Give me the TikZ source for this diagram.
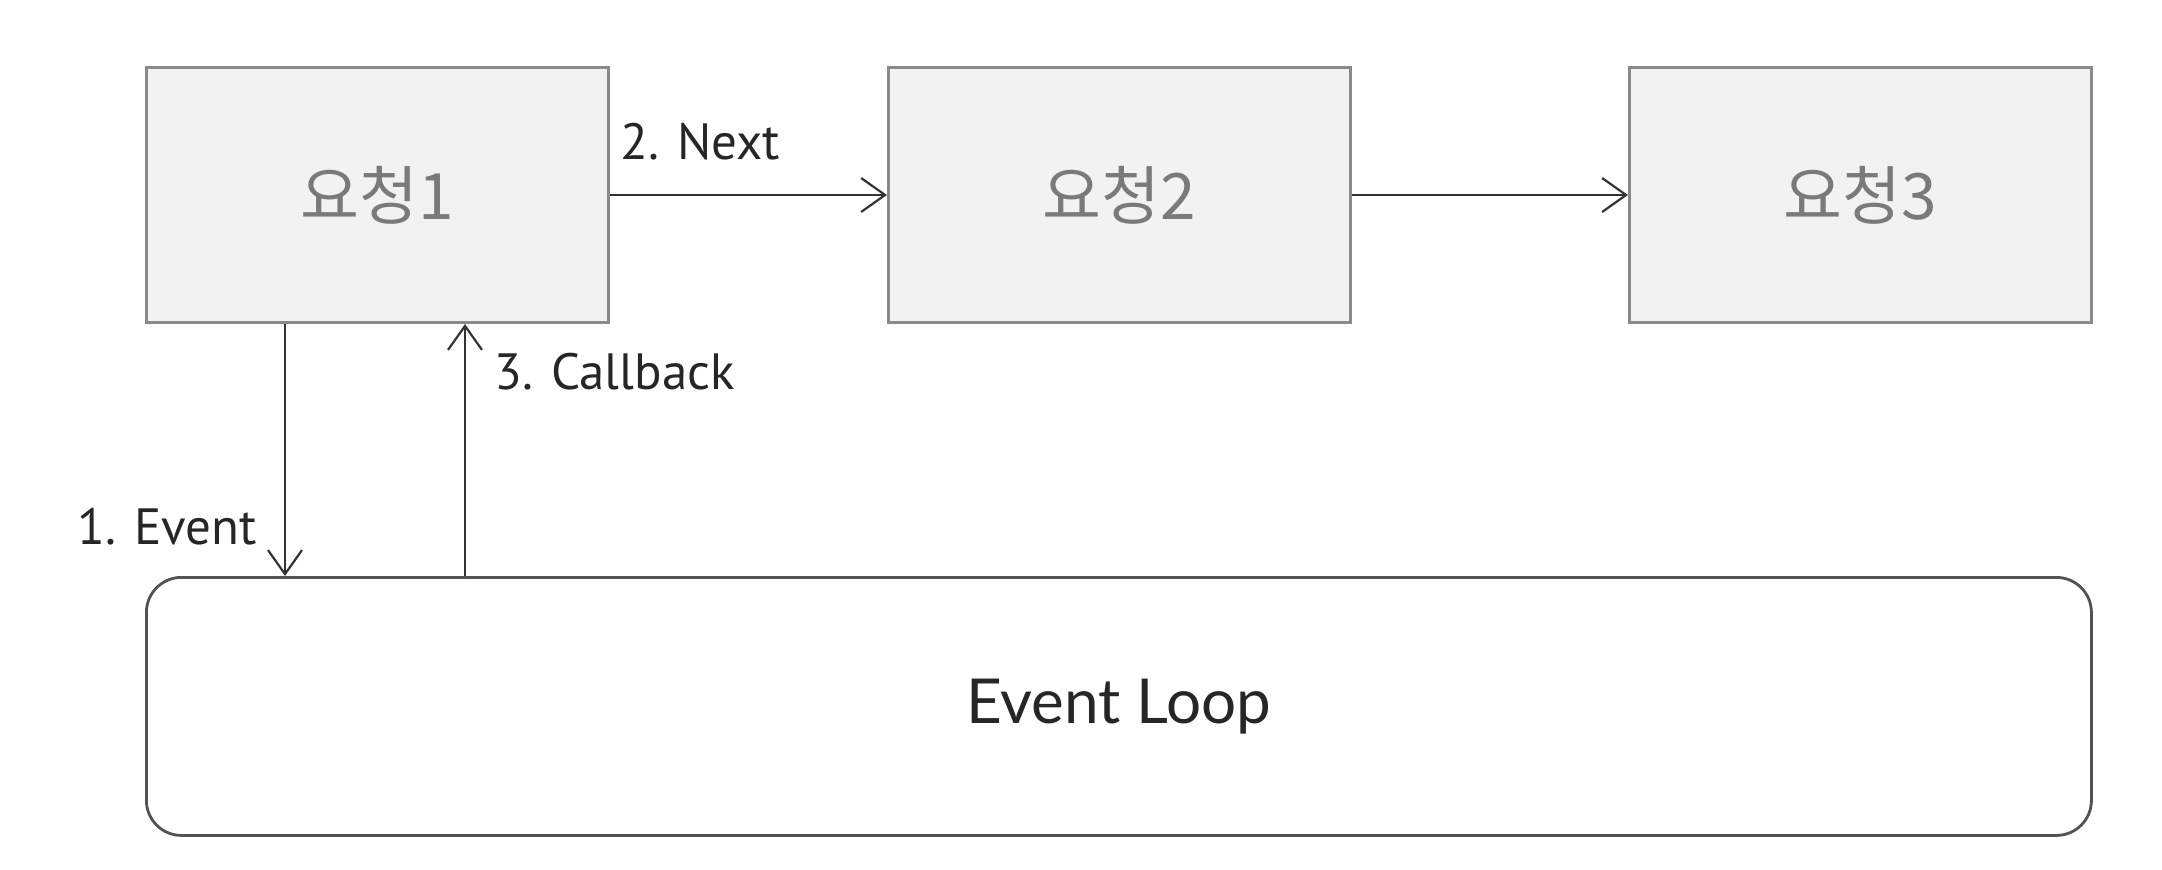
\documentclass[tikz,border=0pt]{standalone}
\usepackage{fontspec}
\setmainfont{PT Sans}
\newfontfamily\kr{Noto Sans CJK KR}
\newfontfamily\lat{Lato}
\usetikzlibrary{arrows.meta}
\definecolor{boxfill}{HTML}{F2F2F2}
\definecolor{boxline}{HTML}{8A8A8A}
\definecolor{krtext}{HTML}{7A7A7A}
\definecolor{arrline}{HTML}{333333}
\tikzset{
  reqbox/.style={draw=boxline, line width=1.5pt, fill=boxfill, minimum width=231pt, minimum height=127.5pt, inner sep=0pt, anchor=north west, font=\kr\fontsize{32}{36}\selectfont, text=krtext},
  loopbox/.style={draw=arrline!85, line width=1.4pt, rounded corners=17.5pt, minimum width=972.5pt, minimum height=129pt, inner sep=0pt, anchor=north west, font=\lat\fontsize{31}{35}\selectfont, text=black!85},
  arr/.style={draw=arrline, line width=1.1pt, -{Straight Barb[length=12pt, width=17pt, line width=1.1pt]}},
  lbl/.style={font=\fontsize{25.5}{28}\selectfont, text=black!85, inner sep=0pt}
}
\begin{document}
\begin{tikzpicture}[x=0.5pt, y=-0.5pt]
\useasboundingbox (0,0) rectangle (2162,869);
\node[reqbox] (r1) at (145,66) {요청1};
\node[reqbox] (r2) at (887,66) {요청2};
\node[reqbox] (r3) at (1628,66) {요청3};
\node[loopbox] (loop) at (145,576) {Event Loop};
\coordinate (ev) at (285,0);
\coordinate (cb) at (465,0);
\draw[arr] (r1.east) -- (r2.west);
\draw[arr] (r2.east) -- (r3.west);
\draw[arr] (r1.south -| ev) -- (loop.north -| ev);
\draw[arr] (loop.north -| cb) -- (r1.south -| cb);
\node[lbl, anchor=west] (lnext) at (620,142) {2. Next};
\node[lbl, anchor=west] (lcb) at (494,372) {3. Callback};
\node[lbl, anchor=east] (lev) at (257,527) {1. Event};
\end{tikzpicture}
\end{document}
